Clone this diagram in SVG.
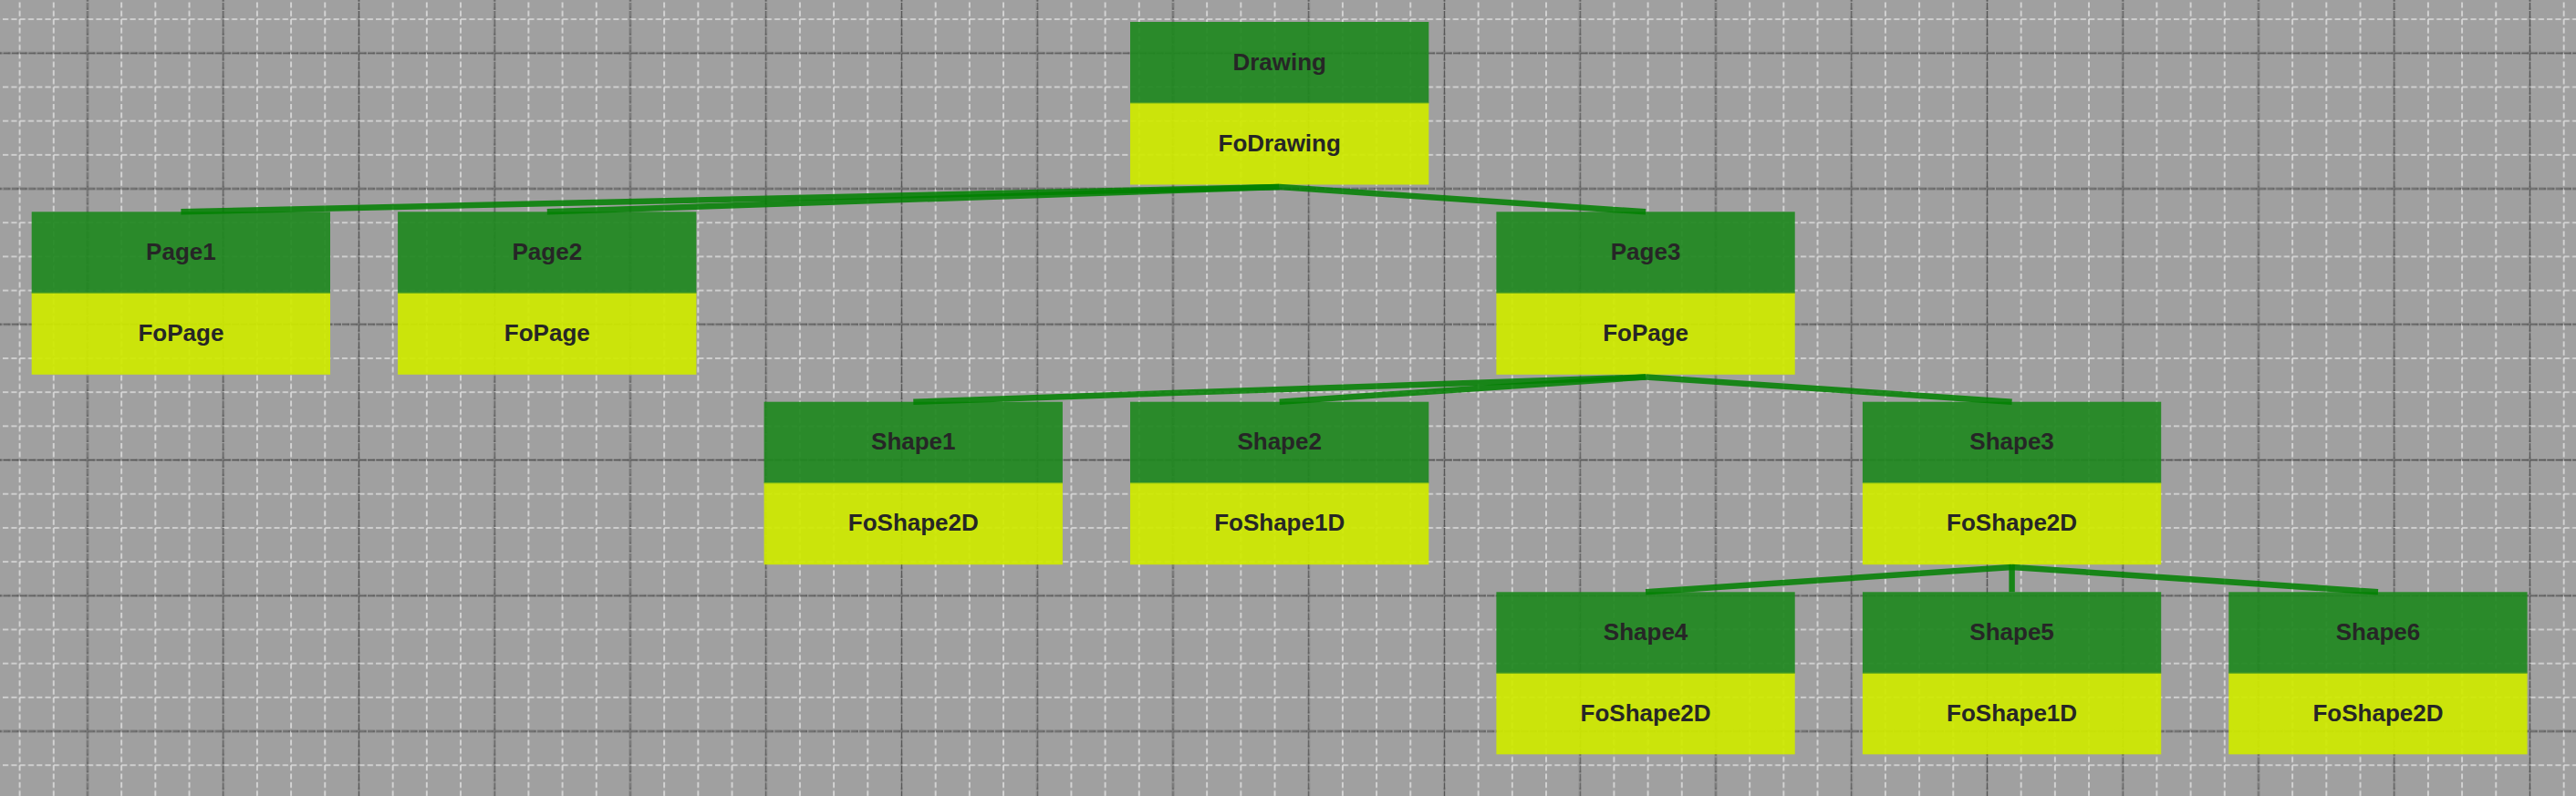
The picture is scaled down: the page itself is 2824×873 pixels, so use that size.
<svg xmlns="http://www.w3.org/2000/svg" width="2824" height="873" viewBox="0 0 2824 873">
  <defs>
    <pattern id="minorGrid" patternUnits="userSpaceOnUse" x="3.0" y="2.5" width="37.1875" height="37.1875">
      <line x1="18.59" y1="0" x2="18.59" y2="37.1875" stroke="#dedede" stroke-width="1.6" stroke-dasharray="6.2 3.1"/>
      <line x1="0" y1="18.59" x2="37.1875" y2="18.59" stroke="#dedede" stroke-width="1.6" stroke-dasharray="6.2 3.1"/>
    </pattern>
    <pattern id="majorGrid" patternUnits="userSpaceOnUse" x="21.6" y="-16.1" width="148.75" height="148.75">
      <line x1="74.375" y1="0" x2="74.375" y2="148.75" stroke="#555555" stroke-width="1.8" stroke-dasharray="8.3 1"/>
      <line x1="0" y1="74.375" x2="148.75" y2="74.375" stroke="#555555" stroke-width="1.8" stroke-dasharray="8.3 1"/>
    </pattern>
  </defs>
  <style>
    .hdr { fill: #1f881f; fill-opacity: 0.92; }
    .body { fill: #cfea00; fill-opacity: 0.93; }
    .sep { stroke: #6fb21a; stroke-width: 1.2; }
    .lbl { font-family: "Liberation Sans", Arial, sans-serif; font-size: 26px; font-weight: bold; fill: #262626; text-anchor: middle; }
    .conn { stroke: #008000; stroke-opacity: 0.85; stroke-width: 6.5; fill: none; }
  </style>

  <rect x="0" y="0" width="2824" height="873" fill="#a0a0a0"/>
  <rect x="0" y="0" width="2824" height="873" fill="url(#minorGrid)"/>
  <rect x="0" y="0" width="2824" height="873" fill="url(#majorGrid)"/>

  <g id="node-drawing">
    <rect class="hdr" x="1239" y="24" width="327.3" height="89"/>
    <rect class="body" x="1239" y="113" width="327.3" height="89.5"/>
    <line class="sep" x1="1239" y1="113" x2="1566.3" y2="113"/>
    <text class="lbl" x="1402.7" y="76.5">Drawing</text>
    <text class="lbl" x="1402.7" y="165.7">FoDrawing</text>
  </g>

  <g id="node-page1">
    <rect class="hdr" x="34.7" y="232.3" width="327.3" height="89"/>
    <rect class="body" x="34.7" y="321.3" width="327.3" height="89.5"/>
    <line class="sep" x1="34.7" y1="321.3" x2="362" y2="321.3"/>
    <text class="lbl" x="198.4" y="284.8">Page1</text>
    <text class="lbl" x="198.4" y="374">FoPage</text>
  </g>

  <g id="node-page2">
    <rect class="hdr" x="436.1" y="232.3" width="327.3" height="89"/>
    <rect class="body" x="436.1" y="321.3" width="327.3" height="89.5"/>
    <line class="sep" x1="436.1" y1="321.3" x2="763.4" y2="321.3"/>
    <text class="lbl" x="599.8" y="284.8">Page2</text>
    <text class="lbl" x="599.8" y="374">FoPage</text>
  </g>

  <g id="node-page3">
    <rect class="hdr" x="1640.4" y="232.3" width="327.3" height="89"/>
    <rect class="body" x="1640.4" y="321.3" width="327.3" height="89.5"/>
    <line class="sep" x1="1640.4" y1="321.3" x2="1967.7" y2="321.3"/>
    <text class="lbl" x="1804.1" y="284.8">Page3</text>
    <text class="lbl" x="1804.1" y="374">FoPage</text>
  </g>

  <g id="node-shape1">
    <rect class="hdr" x="837.6" y="440.7" width="327.3" height="89"/>
    <rect class="body" x="837.6" y="529.7" width="327.3" height="89.5"/>
    <line class="sep" x1="837.6" y1="529.7" x2="1164.9" y2="529.7"/>
    <text class="lbl" x="1001.3" y="493.2">Shape1</text>
    <text class="lbl" x="1001.3" y="582.4">FoShape2D</text>
  </g>

  <g id="node-shape2">
    <rect class="hdr" x="1239" y="440.7" width="327.3" height="89"/>
    <rect class="body" x="1239" y="529.7" width="327.3" height="89.5"/>
    <line class="sep" x1="1239" y1="529.7" x2="1566.3" y2="529.7"/>
    <text class="lbl" x="1402.7" y="493.2">Shape2</text>
    <text class="lbl" x="1402.7" y="582.4">FoShape1D</text>
  </g>

  <g id="node-shape3">
    <rect class="hdr" x="2041.9" y="440.7" width="327.3" height="89"/>
    <rect class="body" x="2041.9" y="529.7" width="327.3" height="89.5"/>
    <line class="sep" x1="2041.9" y1="529.7" x2="2369.2" y2="529.7"/>
    <text class="lbl" x="2205.6" y="493.2">Shape3</text>
    <text class="lbl" x="2205.6" y="582.4">FoShape2D</text>
  </g>

  <g id="node-shape4">
    <rect class="hdr" x="1640.4" y="649.3" width="327.3" height="89"/>
    <rect class="body" x="1640.4" y="738.3" width="327.3" height="89"/>
    <line class="sep" x1="1640.4" y1="738.3" x2="1967.7" y2="738.3"/>
    <text class="lbl" x="1804.1" y="701.8">Shape4</text>
    <text class="lbl" x="1804.1" y="790.8">FoShape2D</text>
  </g>

  <g id="node-shape5">
    <rect class="hdr" x="2041.9" y="649.3" width="327.3" height="89"/>
    <rect class="body" x="2041.9" y="738.3" width="327.3" height="89"/>
    <line class="sep" x1="2041.9" y1="738.3" x2="2369.2" y2="738.3"/>
    <text class="lbl" x="2205.6" y="701.8">Shape5</text>
    <text class="lbl" x="2205.6" y="790.8">FoShape1D</text>
  </g>

  <g id="node-shape6">
    <rect class="hdr" x="2443.3" y="649.3" width="327.3" height="89"/>
    <rect class="body" x="2443.3" y="738.3" width="327.3" height="89"/>
    <line class="sep" x1="2443.3" y1="738.3" x2="2770.6" y2="738.3"/>
    <text class="lbl" x="2607" y="701.8">Shape6</text>
    <text class="lbl" x="2607" y="790.8">FoShape2D</text>
  </g>

  <g id="connectors">
    <line class="conn" x1="1402.7" y1="205" x2="198.4" y2="232.3"/>
    <line class="conn" x1="1402.7" y1="205" x2="599.8" y2="232.3"/>
    <line class="conn" x1="1402.7" y1="205" x2="1804.1" y2="232.3"/>
    <line class="conn" x1="1804.1" y1="413.5" x2="1001.3" y2="440.7"/>
    <line class="conn" x1="1804.1" y1="413.5" x2="1402.7" y2="440.7"/>
    <line class="conn" x1="1804.1" y1="413.5" x2="2205.6" y2="440.7"/>
    <line class="conn" x1="2205.6" y1="622" x2="1804.1" y2="649.3"/>
    <line class="conn" x1="2205.6" y1="619.2" x2="2205.6" y2="649.3"/>
    <line class="conn" x1="2205.6" y1="622" x2="2607" y2="649.3"/>
  </g>
</svg>
